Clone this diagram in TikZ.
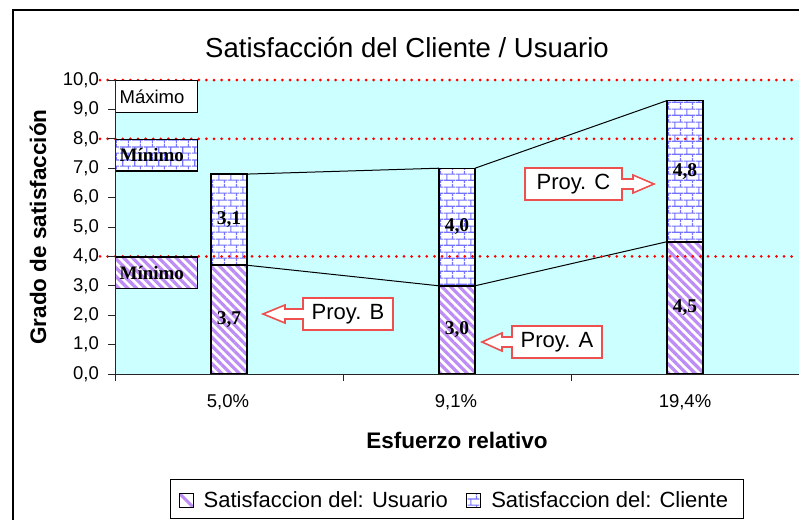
\documentclass[tikz,border=0pt]{standalone}
\usepackage{fontspec}
\setmainfont{Liberation Sans}
\newfontfamily\valfont{Liberation Serif}
\usetikzlibrary{calc,positioning,patterns,patterns.meta}

\definecolor{fondo}{RGB}{204,255,255}
\definecolor{usuario}{RGB}{190,140,245}
\definecolor{cliente}{RGB}{115,115,255}
\definecolor{proyrojo}{RGB}{238,80,80}

% bricks for the client series
\pgfdeclarepatternformonly{ladrillo}{\pgfpointorigin}{\pgfpoint{12pt}{13pt}}{\pgfpoint{12pt}{13pt}}{%
  \pgfsetlinewidth{1.2pt}%
  \pgfpathmoveto{\pgfpoint{0pt}{3pt}}\pgfpathlineto{\pgfpoint{12pt}{3pt}}%
  \pgfpathmoveto{\pgfpoint{0pt}{9.5pt}}\pgfpathlineto{\pgfpoint{12pt}{9.5pt}}%
  \pgfpathmoveto{\pgfpoint{3pt}{3pt}}\pgfpathlineto{\pgfpoint{3pt}{9.5pt}}%
  \pgfpathmoveto{\pgfpoint{9pt}{9.5pt}}\pgfpathlineto{\pgfpoint{9pt}{13pt}}%
  \pgfpathmoveto{\pgfpoint{9pt}{0pt}}\pgfpathlineto{\pgfpoint{9pt}{3pt}}%
  \pgfusepath{stroke}}

\tikzset{
  usu/.style={preaction={fill=white}, pattern={Lines[angle=-45,distance=6.2pt,line width=3.2pt]}, pattern color=usuario},
  cli/.style={preaction={fill=white}, pattern=ladrillo, pattern color=cliente},
  barra/.style={draw=black, line width=1.2pt},
  serie/.style={draw=black, line width=1pt},
  limite/.style={draw=red, line width=3pt, line cap=round, dash pattern=on 0pt off 7.6pt},
  eje/.style={draw=black!85, line width=1pt},
  marca/.style={font=\fontsize{18.5}{20}\selectfont, inner sep=0pt},
  valor/.style={font=\valfont\bfseries\fontsize{19.5}{21}\selectfont, inner sep=0pt},
  limbox/.style={barra, anchor=north west, minimum height=31.5pt, text width=74pt, inner xsep=4pt, align=left},
  proy/.style={draw=proyrojo, fill=white, line width=1.6pt, line join=miter},
  proytxt/.style={font=\fontsize{22}{24}\selectfont, inner sep=0pt},
  legmark/.style={barra, line width=1pt, minimum size=14pt, inner sep=0pt},
  legtxt/.style={font=\fontsize{22}{24}\selectfont, inner sep=0pt}
}

% callout: box with a block arrow (centre, half width, shaft, head)
\newcommand{\proyleft}[4]{%
  \draw[proy] ($(#1)+(-#2,-16)$) -- ($(#1)+(#2,-16)$) -- ($(#1)+(#2,16)$) -- ($(#1)+(-#2,16)$)
    -- ($(#1)+(-#2,5)$) -- ($(#1)+(-#2-#3,5)$) -- ($(#1)+(-#2-#3,9)$) -- ($(#1)+(-#2-#3-#4,0)$)
    -- ($(#1)+(-#2-#3,-9)$) -- ($(#1)+(-#2-#3,-5)$) -- ($(#1)+(-#2,-5)$) -- cycle;}
\newcommand{\proyright}[4]{%
  \draw[proy] ($(#1)+(#2,-16)$) -- ($(#1)+(-#2,-16)$) -- ($(#1)+(-#2,16)$) -- ($(#1)+(#2,16)$)
    -- ($(#1)+(#2,5)$) -- ($(#1)+(#2+#3,5)$) -- ($(#1)+(#2+#3,9)$) -- ($(#1)+(#2+#3+#4,0)$)
    -- ($(#1)+(#2+#3,-9)$) -- ($(#1)+(#2+#3,-5)$) -- ($(#1)+(#2,-5)$) -- cycle;}

\begin{document}
\begin{tikzpicture}[x=1pt,y=-1pt]
  \useasboundingbox (0,0) rectangle (799,520);
  \fill[white] (0,0) rectangle (799,520);
  %FRAME
  \draw[line width=2.5pt] (13,520) -- (13,10) -- (799,10);
  %TITLE
  \node[font=\fontsize{27.5}{30}\selectfont] (titulo) at (407,48) {Satisfacción del Cliente / Usuario};

  %PLOT (data units: x in px from the axis, y in grade)
  \begin{scope}[shift={(115,374)}, x=1pt, y=29.4pt]
    \fill[fondo] (0,0) rectangle (684,10);
    %BARS
    \foreach \i/\u/\c/\lu/\lc in {0/3.7/3.1/{3,7}/{3,1}, 1/3.0/4.0/{3,0}/{4,0}, 2/4.5/4.8/{4,5}/{4,8}}{
      \pgfmathsetmacro\x{114+228*\i}
      \pgfmathsetmacro\t{\u+\c}
      \draw[barra,usu] (\x-18,0) rectangle (\x+18,\u);
      \draw[barra,cli] (\x-18,\u) rectangle (\x+18,\t);
      \draw[line width=2pt] (\x-18,\u) coordinate (ul\i) -- (\x+18,\u) coordinate (ur\i);
      \coordinate (tl\i) at (\x-18,\t);
      \coordinate (tr\i) at (\x+18,\t);
      \node[valor] (vu\i) at (\x,\u/2) {\lu};
      \node[valor] (vc\i) at (\x,\u+\c/2) {\lc};
    }
    %SERIES LINES
    \draw[serie] (ur0) -- (ul1) (ur1) -- (ul2);
    \draw[serie] (tr0) -- (tl1) (tr1) -- (tl2);
    %LIMITS
    \foreach \v in {10,8,4}
      \draw[limite] (-15,\v) -- (684,\v);
    \node[limbox, fill=white, font=\fontsize{18.5}{20}\selectfont] (maximo) at (0,10) {Máximo};
    \node[limbox, cli, font=\valfont\bfseries\fontsize{19}{20}\selectfont] (minc) at (0,8) {Mínimo};
    \node[limbox, usu, font=\valfont\bfseries\fontsize{19}{20}\selectfont] (minu) at (0,4) {Mínimo};
    %AXES
    \draw[eje] (0,0) -- (0,10);
    \draw[eje] (0,0) -- (684,0);
    \foreach \v in {0,...,10}{
      \draw[eje] (-7,\v) -- (0,\v);
      \node[marca, anchor=east] (y\v) at (-16,\v) {\v,0};
    }
    \foreach \k in {0,...,3}
      \draw[eje] (228*\k,0) -- (228*\k,-0.24);
    \node[marca] (x0) at (113,-0.95) {5,0\%};
    \node[marca] (x1) at (341,-0.95) {9,1\%};
    \node[marca] (x2) at (570,-0.95) {19,4\%};
  \end{scope}

  %AXIS TITLES
  \node[font=\bfseries\fontsize{22.5}{24}\selectfont, rotate=90] (ytit) at (38,227) {Grado de satisfacción};
  \node[font=\bfseries\fontsize{22.5}{24}\selectfont] (xtit) at (457,440) {Esfuerzo relativo};

  %PROJECTS
  \coordinate (pB) at (348,314);
  \proyleft{pB}{45}{18}{22}
  \node[proytxt] (pBlbl) at (pB) {Proy. B};
  \coordinate (pA) at (557,342);
  \proyleft{pA}{45}{10}{20}
  \node[proytxt] (pAlbl) at (pA) {Proy. A};
  \coordinate (pC) at (573.5,184);
  \proyright{pC}{48.5}{11}{21}
  \node[proytxt] (pClbl) at (pC) {Proy. C};

  %LEGEND
  \draw[line width=1pt] (170,479) rectangle (743,518);
  \node[legmark, preaction={fill=white}, path picture={\draw[usuario, line width=3pt] (path picture bounding box.north west) -- (path picture bounding box.south east);}] (mu) at (186,500) {};
  \node[legtxt, right=10pt of mu] (tu) {Satisfaccion del: Usuario};
  \node[legmark, cli, right=18pt of tu] (mc) {};
  \node[legtxt, right=10pt of mc] (tc) {Satisfaccion del: Cliente};
\end{tikzpicture}
\end{document}
